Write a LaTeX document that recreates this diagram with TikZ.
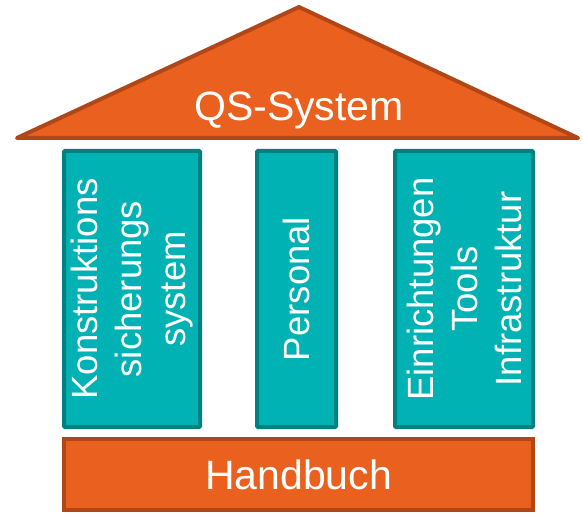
\documentclass[tikz,border=0pt]{standalone}
\usepackage{fontspec}
\setmainfont{Liberation Sans}
\usetikzlibrary{positioning}

\definecolor{dachorange}{HTML}{E9601F}
\definecolor{dachrand}{HTML}{B14717}
\definecolor{saeulegruen}{HTML}{00B2B4}
\definecolor{saeulerand}{HTML}{00807F}

\tikzset{
	saeule/.style={draw=saeulerand, fill=saeulegruen, line width=4pt, rounded corners=1pt,
		rotate=90, minimum width=276pt, text=white, align=center,
		font=\fontsize{36.5}{44}\selectfont, inner sep=0pt},
	sockel/.style={draw=dachrand, fill=dachorange, line width=4pt, text=white,
		font=\fontsize{41}{48}\selectfont, inner sep=0pt}
}

\begin{document}
\begin{tikzpicture}[x=1pt,y=-1pt]
			\useasboundingbox (0,0) rectangle (583,513);

			% Dach
			\draw[draw=dachrand, fill=dachorange, line width=4pt, line join=round]
				(17,138) -- (299,7) -- (578,138) -- cycle;
			\node[text=white, font=\fontsize{41}{48}\selectfont, inner sep=0pt] (dach) at (299,110) {QS-System};

			% die drei Saeulen
			\node[saeule, minimum height=136pt] (ksys) at (132,289) {Konstruktions\\sicherungs\\system};
			\node[saeule, minimum height=79pt] (personal) at (296.5,289) {Personal};
			\node[saeule, minimum height=138pt] (tools) at (464,289) {Einrichtungen\\Tools\\Infrastruktur};

			% Sockel
			\node[sockel, minimum width=469pt, minimum height=71pt] (handbuch) at (298.5,474.5) {Handbuch};
		\end{tikzpicture}
\end{document}
